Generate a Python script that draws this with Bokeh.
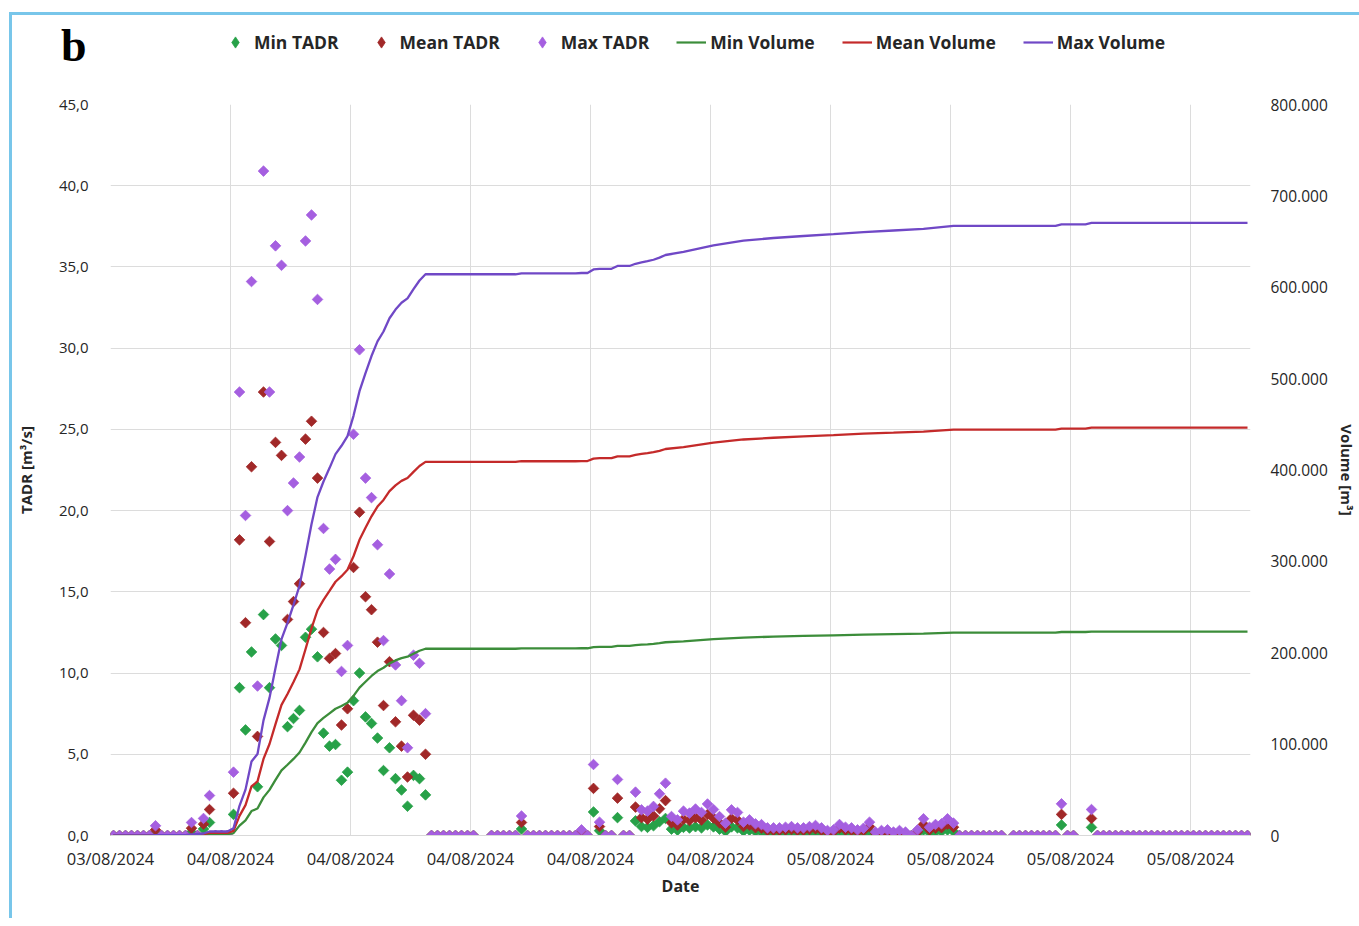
import math
from bokeh.plotting import figure
from bokeh.layouts import column
from bokeh.models import (Range1d, LinearAxis, FixedTicker, CustomJSTickFormatter,
                          Legend, LegendItem, ColumnDataSource)
from bokeh.embed import file_html
from bokeh.resources import INLINE

NAN = float("nan")

# ---------------- data (15-minute steps, 190 steps) ----------------
date_ticks = [0, 20, 40, 60, 80, 100, 120, 140, 160, 180]
date_labels = ["03/08/2024", "04/08/2024", "04/08/2024", "04/08/2024", "04/08/2024",
               "04/08/2024", "05/08/2024", "05/08/2024", "05/08/2024", "05/08/2024"]

# Max TADR [m3/s]
max_tadr = ([0.0] * 7 + [0.6] + [0.0] * 5 + [0.8, 0.0, 1.05, 2.46] + [0.0] * 3
            + [3.9, 27.3, 19.7, 34.1, 9.2, 40.9, 27.3, 36.3, 35.1, 20.0, 21.7, 23.3, 36.6,
               38.2, 33.0, 18.9, 16.4, 17.0, 10.1, 11.7, 24.7, 29.9, 22.0, 20.8, 17.9, 12.0,
               16.1, 10.5, 8.3, 5.4, 11.1, 10.6, 7.5]
            + [0.0] * 8 + [NAN] * 2 + [0.0] * 5 + [1.2] + [0.0] * 9 + [0.35, 0.0, 4.37, 0.82]
            + [0.0] * 2 + [3.45] + [0.0] * 2 + [2.67, 1.58, 1.50, 1.79, 2.57, 3.22]
            + [1.17, 0.96, 1.50, 1.38, 1.63, 1.42, 1.94, 1.60, 1.17, 0.76, 1.58, 1.42, 0.82,
               0.96, 0.72, 0.67, 0.47, 0.47, 0.47, 0.51, 0.55, 0.47, 0.47, 0.55, 0.62, 0.47,
               0.31, 0.35, 0.68, 0.51, 0.47, 0.35, 0.45, 0.82, 0.21, 0.31, 0.35, 0.21, 0.31,
               0.21, 0.0, 0.35, 1.03, 0.51, 0.68, 0.72, 1.03, 0.76]
            + [0.0] * 8 + [NAN] + [0.0] * 8 + [1.95, 0.0, 0.0, NAN, NAN, 1.6] + [0.0] * 26)

# Mean TADR [m3/s]
mean_tadr = ([0.0] * 7 + [0.35] + [0.0] * 5 + [0.45, 0.0, 0.7, 1.6] + [0.0] * 3
             + [2.6, 18.2, 13.1, 22.7, 6.1, 27.3, 18.1, 24.2, 23.4, 13.3, 14.4, 15.5, 24.4,
                25.5, 22.0, 12.5, 10.9, 11.2, 6.8, 7.8, 16.5, 19.9, 14.7, 13.9, 11.9, 8.0,
                10.7, 7.0, 5.5, 3.6, 7.4, 7.1, 5.0]
             + [0.0] * 8 + [NAN] * 2 + [0.0] * 5 + [0.8] + [0.0] * 9 + [0.25, 0.0, 2.9, 0.55]
             + [0.0] * 2 + [2.3] + [0.0] * 2 + [1.75, 1.1, 1.0, 1.2, 1.65, 2.15]
             + [0.78, 0.64, 1.00, 0.92, 1.09, 0.95, 1.29, 1.07, 0.78, 0.51, 1.05, 0.95, 0.55,
                0.64, 0.48, 0.45, 0.31, 0.31, 0.31, 0.34, 0.37, 0.31, 0.31, 0.37, 0.41, 0.31,
                0.21, 0.23, 0.45, 0.34, 0.31, 0.23, 0.30, 0.55, 0.14, 0.21, 0.23, 0.14, 0.21,
                0.14, 0.0, 0.23, 0.69, 0.34, 0.45, 0.48, 0.69, 0.51]
             + [0.0] * 8 + [NAN] + [0.0] * 8 + [1.3, 0.0, 0.0, NAN, NAN, 1.05] + [0.0] * 26)

# Min TADR [m3/s]
min_tadr = ([0.0] * 7 + [0.15] + [0.0] * 5 + [0.2, 0.0, 0.4, 0.8] + [0.0] * 3
            + [1.3, 9.1, 6.5, 11.3, 3.0, 13.6, 9.1, 12.1, 11.7, 6.7, 7.2, 7.7, 12.2, 12.7,
               11.0, 6.3, 5.5, 5.6, 3.4, 3.9, 8.3, 10.0, 7.3, 6.9, 6.0, 4.0, 5.4, 3.5, 2.8,
               1.8, 3.7, 3.5, 2.5]
            + [0.0] * 8 + [NAN] * 2 + [0.0] * 5 + [0.4] + [0.0] * 9 + [0.1, 0.0, 1.45, 0.3]
            + [0.0] * 2 + [1.1] + [0.0] * 2 + [0.9, 0.55, 0.5, 0.6, 0.85, 1.05]
            + [0.39, 0.32, 0.50, 0.46, 0.54, 0.47, 0.65, 0.53, 0.39, 0.25, 0.53, 0.47, 0.27,
               0.32, 0.24, 0.22, 0.16, 0.16, 0.16, 0.17, 0.18, 0.16, 0.16, 0.18, 0.21, 0.16,
               0.10, 0.12, 0.23, 0.17, 0.16, 0.12, 0.15, 0.27, 0.07, 0.10, 0.12, 0.07, 0.10,
               0.07, 0.0, 0.12, 0.34, 0.17, 0.23, 0.24, 0.34, 0.25]
            + [0.0] * 8 + [NAN] + [0.0] * 8 + [0.65, 0.0, 0.0, NAN, NAN, 0.5] + [0.0] * 26)

# Volume [m3] read at selected steps
vol_steps = [0, 6, 7, 12, 13, 15, 16, 19, 20, 21, 22, 23, 24, 25, 26, 27, 28, 29, 30, 31, 32,
             33, 34, 35, 36, 37, 38, 39, 40, 41, 42, 43, 44, 45, 46, 47, 48, 49, 50, 51, 52,
             67, 68, 77, 78, 79, 80, 81, 83, 84, 86, 87, 88, 89, 90, 91, 92, 95, 100, 105,
             110, 115, 120, 125, 130, 135, 140, 157, 158, 162, 163, 189]
max_volume = [0, 0, 500, 500, 1300, 2200, 4400, 4400, 7900, 32500, 50200, 80900, 89200,
              126000, 150600, 183200, 214800, 232800, 252400, 273300, 306300, 340700, 370400,
              387400, 402100, 417400, 426500, 437000, 459300, 486200, 506000, 524700, 540800,
              551600, 566100, 575600, 583000, 587900, 597900, 607400, 614200,
              614200, 615200, 615200, 615600, 615600, 619500, 620200, 620200, 623300, 623300,
              625700, 627200, 628500, 630100, 632400, 635300, 638600, 645800, 651000, 653900,
              656100, 658200, 660400, 662100, 663800, 667200, 667200, 668900, 668900, 670400,
              670400]
mean_volume = [0, 0, 300, 300, 700, 1400, 2800, 2800, 5100, 21500, 33300, 53700, 59200,
               83800, 100100, 121900, 142900, 154900, 167900, 181800, 203800, 226700, 246500,
               257800, 267600, 277700, 283800, 290800, 305600, 323600, 336800, 349300, 360000,
               367200, 376800, 383100, 388100, 391300, 398000, 404400, 408900,
               408900, 409600, 409600, 409800, 409800, 412400, 412900, 412900, 415000, 415000,
               416600, 417600, 418500, 419500, 421000, 423000, 425100, 429900, 433400, 435300,
               436800, 438200, 439700, 440800, 442000, 444200, 444200, 445300, 445300, 446300,
               446300]
min_volume = [0, 0, 100, 100, 300, 700, 1400, 1400, 2600, 10800, 16600, 26800, 29500,
              41700, 49900, 60800, 71300, 77400, 83800, 90800, 101700, 113200, 123100,
              128700, 133700, 138700, 141800, 145300, 152800, 161800, 168300, 174600, 180000,
              183600, 188400, 191600, 194100, 195700, 199000, 202200, 204400,
              204400, 204800, 204800, 204900, 204900, 206200, 206500, 206500, 207500, 207500,
              208300, 208800, 209200, 209700, 210500, 211500, 212500, 214900, 216600, 217600,
              218400, 219100, 219800, 220400, 221000, 222100, 222100, 222700, 222700, 223100,
              223100]

n_steps = len(max_tadr)
assert n_steps == len(mean_tadr) == len(min_tadr) == 190
assert len(vol_steps) == len(max_volume) == len(mean_volume) == len(min_volume)

# ---------------- styling ----------------
C_MIN_M, C_MEAN_M, C_MAX_M = "#27a148", "#a12828", "#a55fe0"
C_MIN_L, C_MEAN_L, C_MAX_L = "#3c8d3a", "#c42a2a", "#7048c6"
FONT = "Open Sans"
TXT = "#262626"
BORDER = "#78c6ea"

mk = dict(marker="square", angle=math.pi / 4, size=7.5, line_width=0.8)
mk_leg = dict(marker="diamond", size=14, line_width=0.8)

tadr_src = ColumnDataSource(dict(x=[i + 0.5 for i in range(n_steps)],
                                 mn=min_tadr, me=mean_tadr, mx=max_tadr))
vol_src = ColumnDataSource(dict(x=[s + 0.5 for s in vol_steps],
                                mn=min_volume, me=mean_volume, mx=max_volume))

LEFT = 98      # left border inside the framed panel
RIGHT = 101

# ---------------- header (panel letter + legend) ----------------
head = figure(width=LEFT + 1140 + RIGHT, height=77, x_range=Range1d(0, 1), y_range=Range1d(0, 1),
              x_axis_type=None, output_backend="svg", toolbar_location=None,
              min_border_left=LEFT, min_border_right=RIGHT, min_border_top=0,
              min_border_bottom=17,
              background_fill_color="white", border_fill_color="white")
head.outline_line_color = None
head.grid.visible = False
hy = head.yaxis[0]
hy.ticker = FixedTicker(ticks=[])
hy.axis_line_color = None
hy.major_tick_line_color = None
hy.minor_tick_line_color = None
hy.axis_label = "b"
hy.axis_label_orientation = "horizontal"
hy.axis_label_text_font = "Liberation Serif"
hy.axis_label_text_font_style = "bold"
hy.axis_label_text_font_size = "46px"
hy.axis_label_text_color = "black"
hy.axis_label_standoff = 24

# legend proxies (NaN position: only their style is used by the legend)
proxy = ColumnDataSource(dict(x=[NAN], y=[NAN]))
h_min = head.scatter("x", "y", source=proxy, fill_color=C_MIN_M, line_color=C_MIN_M, **mk_leg)
h_mean = head.scatter("x", "y", source=proxy, fill_color=C_MEAN_M, line_color=C_MEAN_M, **mk_leg)
h_max = head.scatter("x", "y", source=proxy, fill_color=C_MAX_M, line_color=C_MAX_M, **mk_leg)
h_lmin = head.line("x", "y", source=proxy, line_color=C_MIN_L, line_width=2.2)
h_lmean = head.line("x", "y", source=proxy, line_color=C_MEAN_L, line_width=2.2)
h_lmax = head.line("x", "y", source=proxy, line_color=C_MAX_L, line_width=2.2)

legend = Legend(items=[
    LegendItem(label="Min TADR", renderers=[h_min]),
    LegendItem(label="Mean TADR", renderers=[h_mean]),
    LegendItem(label="Max TADR", renderers=[h_max]),
    LegendItem(label="Min Volume", renderers=[h_lmin]),
    LegendItem(label="Mean Volume", renderers=[h_lmean]),
    LegendItem(label="Max Volume", renderers=[h_lmax]),
], orientation="horizontal", location=(110, 19))
legend.background_fill_alpha = 0
legend.border_line_color = None
legend.label_text_font = FONT
legend.label_text_font_style = "bold"
legend.label_text_font_size = "17.5px"
legend.label_text_color = TXT
legend.glyph_width = 30
legend.glyph_height = 28
legend.label_standoff = 4
legend.spacing = 27
legend.padding = 4
legend.margin = 0
head.add_layout(legend, "center")

# ---------------- main chart ----------------
p = figure(frame_width=1140, frame_height=731,
           x_range=Range1d(0, n_steps), y_range=Range1d(0, 45),
           output_backend="svg", toolbar_location=None,
           min_border_left=LEFT, min_border_right=RIGHT, min_border_top=12,
           min_border_bottom=83,
           background_fill_color="white", border_fill_color="white")
p.outline_line_color = None
p.extra_y_ranges = {"vol": Range1d(0, 800000)}

xa = p.xaxis[0]
xa.ticker = FixedTicker(ticks=date_ticks)
xa.major_label_overrides = {t: l for t, l in zip(date_ticks, date_labels)}
xa.axis_label = "Date"
xa.axis_label_text_font = FONT
xa.axis_label_text_font_style = "bold"
xa.axis_label_text_font_size = "16px"
xa.axis_label_text_color = TXT
xa.axis_label_standoff = 2
xa.major_label_text_font = FONT
xa.major_label_text_font_size = "16.5px"
xa.major_label_text_color = TXT
xa.major_label_standoff = 5
xa.major_tick_line_color = None
xa.minor_tick_line_color = None
xa.axis_line_color = "#d9d9d9"

ya = p.yaxis[0]
ya.ticker = FixedTicker(ticks=[0, 5, 10, 15, 20, 25, 30, 35, 40, 45])
ya.formatter = CustomJSTickFormatter(code="return tick.toFixed(1).replace('.', ',');")
ya.axis_label = "TADR [m³/s]"
ya.axis_label_text_font = FONT
ya.axis_label_text_font_style = "bold"
ya.axis_label_text_font_size = "15px"
ya.axis_label_text_color = TXT
ya.axis_label_standoff = 20
ya.major_label_text_font = FONT
ya.major_label_text_font_size = "15px"
ya.major_label_text_color = TXT
ya.major_label_standoff = 16
ya.major_tick_line_color = None
ya.minor_tick_line_color = None
ya.axis_line_color = None

ra = LinearAxis(y_range_name="vol",
                ticker=FixedTicker(ticks=[0, 100000, 200000, 300000, 400000, 500000,
                                          600000, 700000, 800000]),
                formatter=CustomJSTickFormatter(
                    code="if (tick == 0) { return '0'; } return (tick/1000).toFixed(0) + '.000';"))
ra.axis_label = "Volume [m³]"
ra.axis_label_text_font = FONT
ra.axis_label_text_font_style = "bold"
ra.axis_label_text_font_size = "15px"
ra.axis_label_text_color = TXT
ra.axis_label_standoff = 6
ra.major_label_text_font = FONT
ra.major_label_text_font_size = "15.5px"
ra.major_label_text_color = TXT
ra.major_label_standoff = 14
ra.major_tick_line_color = None
ra.minor_tick_line_color = None
ra.axis_line_color = None
p.add_layout(ra, "right")

p.xgrid.grid_line_color = "#dcdcdc"
p.ygrid.grid_line_color = "#dcdcdc"

p.scatter("x", "mn", source=tadr_src, fill_color=C_MIN_M, line_color=C_MIN_M, **mk)
p.scatter("x", "me", source=tadr_src, fill_color=C_MEAN_M, line_color=C_MEAN_M, **mk)
p.scatter("x", "mx", source=tadr_src, fill_color=C_MAX_M, line_color=C_MAX_M, **mk)

p.line("x", "mn", source=vol_src, y_range_name="vol", line_color=C_MIN_L, line_width=2.3)
p.line("x", "me", source=vol_src, y_range_name="vol", line_color=C_MEAN_L, line_width=2.3)
p.line("x", "mx", source=vol_src, y_range_name="vol", line_color=C_MAX_L, line_width=2.3)

layout = column(head, p, spacing=0)
layout.styles = {"border-top": "3px solid " + BORDER, "border-left": "3px solid " + BORDER,
                 "margin-left": "9px", "margin-top": "12px"}
open("out.html", "w").write(file_html(layout, INLINE))
